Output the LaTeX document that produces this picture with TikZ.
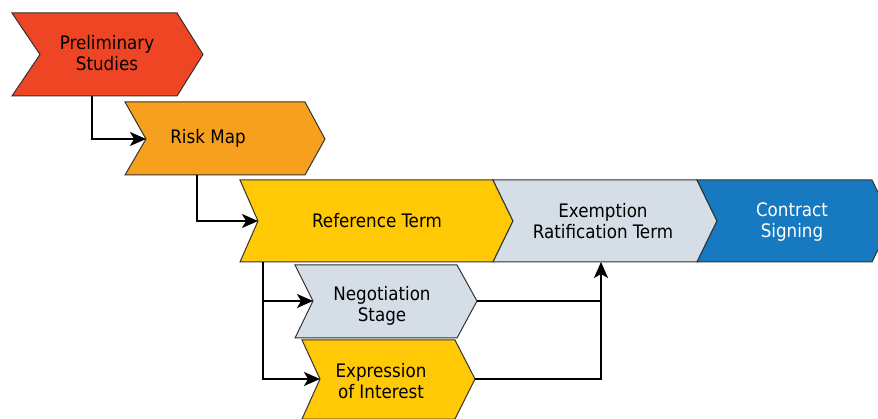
\documentclass[tikz,border=0pt]{standalone}
\usepackage{fontspec}
\setmainfont{DejaVu Sans Condensed}
\usetikzlibrary{arrows.meta}
\definecolor{cred}{HTML}{EE4524}
\definecolor{corange}{HTML}{F7A01E}
\definecolor{cyellow}{HTML}{FFC905}
\definecolor{cgray}{HTML}{D5DEE7}
\definecolor{cblue}{HTML}{1779BF}
\definecolor{cedge}{HTML}{333333}
\tikzset{
  chev/.style={draw=cedge, line width=1pt, line join=miter},
  lbl/.style={align=center, font=\fontsize{18.6}{21.5}\selectfont, text=black, inner sep=0pt},
  conn/.style={line width=1.6pt, black},
  arr/.style={conn, -{Stealth[length=16pt,width=14pt,inset=4pt]}}
}
\begin{document}
\begin{tikzpicture}[x=1pt,y=-1pt]
\useasboundingbox (0,0) rectangle (878,419);
\clip (0,0) rectangle (878,419);
% shapes
\filldraw[chev, fill=cred] (12,13) -- (177,13) -- (203,54.5) -- (177,96) -- (12,96) -- (40,54.5) -- cycle;
\filldraw[chev, fill=corange] (125,102) -- (305,102) -- (325,139) -- (305,175) -- (125,175) -- (146,139) -- cycle;
\filldraw[chev, fill=cyellow] (240,180) -- (493,180) -- (513,221) -- (493,262) -- (240,262) -- (258,221) -- cycle;
\filldraw[chev, fill=cgray] (493,180) -- (697,180) -- (717,221) -- (697,262) -- (493,262) -- (513,221) -- cycle;
\filldraw[chev, fill=cblue] (697,180) -- (872,180) -- (892,221) -- (872,262) -- (697,262) -- (717,221) -- cycle;
\filldraw[chev, fill=cgray] (295,265) -- (457,265) -- (477,301) -- (457,338) -- (295,338) -- (313,301) -- cycle;
\filldraw[chev, fill=cyellow] (302,340) -- (455,340) -- (475,379) -- (455,419) -- (302,419) -- (320,379) -- cycle;
% labels
\node[lbl] (prelim) at (107,53) {Preliminary\\Studies};
\node[lbl] (risk) at (208,138) {Risk Map};
\node[lbl] (ref) at (377,221) {Reference Term};
\node[lbl] (exempt) at (603,221) {Exemption\\Ratification Term};
\node[lbl, text=white] (contract) at (792,222) {Contract\\Signing};
\node[lbl] (nego) at (382,306) {Negotiation\\Stage};
\node[lbl] (expr) at (381,381) {Expression\\of Interest};
% anchor coordinates
\coordinate (prelimB) at (92,96);
\coordinate (riskN) at (146,139);
\coordinate (riskB) at (197,175);
\coordinate (refN) at (258,221);
\coordinate (refB) at (263,262);
\coordinate (negoN) at (313,301);
\coordinate (exprN) at (320,379);
\coordinate (negoT) at (477,301);
\coordinate (exprT) at (475,379);
\coordinate (join) at (601,379);
\coordinate (exemptB) at (601,262);
% connectors
\draw[arr] (prelimB) |- (riskN);
\draw[arr] (riskB) |- (refN);
\draw[arr] (refB) |- (negoN);
\draw[arr] (refB) |- (exprN);
\draw[conn] (negoT) -- (negoT -| join);
\draw[arr] (exprT) -- (join) -- (exemptB);
\end{tikzpicture}
\end{document}
